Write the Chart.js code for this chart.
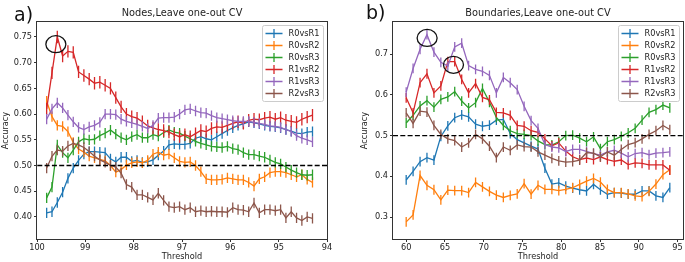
<!DOCTYPE html>
<html>
<head>
<meta charset="utf-8">
<script src="https://cdn.jsdelivr.net/npm/chart.js@4/dist/chart.umd.min.js"></script>
<style>
  html, body { margin: 0; padding: 0; background: #fff; }
  #wrap { position: relative; width: 685px; height: 262px; overflow: hidden; }
  canvas { position: absolute; top: 0; }
  #chart-a { left: 0; }
  #chart-b { left: 340px; }
  .panel-tag { position: absolute; font-family: "DejaVu Sans", sans-serif; font-size: 19px; line-height: 1; color: #111; }
</style>
</head>
<body>
<div id="wrap">
  <canvas id="chart-a" width="340" height="262"></canvas>
  <canvas id="chart-b" width="345" height="262"></canvas>
  <div class="panel-tag" style="left:14px;top:5px">a)</div>
  <div class="panel-tag" style="left:366px;top:3px">b)</div>
</div>
<script>
// ---- data ----
const seriesNames = ["R0vsR1", "R0vsR2", "R0vsR3", "R1vsR2", "R1vsR3", "R2vsR3"];
const seriesColors = ["#1f77b4", "#ff7f0e", "#2ca02c", "#d62728", "#9467bd", "#8c564b"];
const chanceLevel = 0.5;

// panel a: nodes
const thresholdsA = [99.8, 99.69, 99.58, 99.47, 99.36, 99.25, 99.14, 99.03, 98.92, 98.81,
  98.7, 98.59, 98.48, 98.37, 98.26, 98.15, 98.04, 97.93, 97.82, 97.71,
  97.6, 97.49, 97.38, 97.27, 97.16, 97.05, 96.94, 96.83, 96.72, 96.61,
  96.5, 96.39, 96.28, 96.17, 96.06, 95.95, 95.84, 95.73, 95.62, 95.51,
  95.4, 95.29, 95.18, 95.07, 94.96, 94.85, 94.74, 94.63, 94.52, 94.41, 94.3];
const r0r1A = [0.408, 0.410, 0.428, 0.448, 0.475, 0.495, 0.510, 0.522, 0.527, 0.527,
  0.526, 0.525, 0.513, 0.507, 0.516, 0.516, 0.508, 0.510, 0.506, 0.507,
  0.511, 0.520, 0.528, 0.540, 0.542, 0.541, 0.541, 0.543, 0.553, 0.556,
  0.552, 0.550, 0.556, 0.562, 0.568, 0.573, 0.578, 0.581, 0.585, 0.583,
  0.581, 0.578, 0.576, 0.575, 0.573, 0.570, 0.567, 0.563, 0.562, 0.565, 0.566];
const r0r2A = [0.625, 0.595, 0.578, 0.576, 0.566, 0.545, 0.532, 0.526, 0.518, 0.515,
  0.512, 0.509, 0.500, 0.487, 0.492, 0.501, 0.505, 0.507, 0.505, 0.510,
  0.522, 0.526, 0.520, 0.522, 0.515, 0.508, 0.506, 0.507, 0.500, 0.488,
  0.474, 0.472, 0.472, 0.473, 0.476, 0.474, 0.472, 0.472, 0.467, 0.460,
  0.474, 0.478, 0.486, 0.488, 0.488, 0.486, 0.482, 0.478, 0.482, 0.473, 0.467];
const r0r3A = [0.437, 0.458, 0.540, 0.525, 0.515, 0.530, 0.546, 0.552, 0.550, 0.551,
  0.558, 0.563, 0.569, 0.561, 0.554, 0.550, 0.556, 0.560, 0.554, 0.554,
  0.560, 0.557, 0.564, 0.569, 0.565, 0.563, 0.557, 0.552, 0.547, 0.543,
  0.540, 0.537, 0.536, 0.535, 0.537, 0.533, 0.531, 0.525, 0.521, 0.521,
  0.518, 0.516, 0.511, 0.506, 0.503, 0.497, 0.491, 0.486, 0.482, 0.481, 0.482];
const r1r2A = [0.610, 0.680, 0.750, 0.713, 0.722, 0.720, 0.682, 0.675, 0.668, 0.660,
  0.662, 0.656, 0.650, 0.632, 0.614, 0.600, 0.595, 0.592, 0.585, 0.577,
  0.573, 0.570, 0.568, 0.565, 0.560, 0.556, 0.560, 0.556, 0.562, 0.568,
  0.566, 0.572, 0.575, 0.574, 0.578, 0.582, 0.585, 0.582, 0.588, 0.590,
  0.589, 0.592, 0.594, 0.590, 0.593, 0.588, 0.586, 0.584, 0.590, 0.594, 0.598];
const r1r3A = [0.590, 0.610, 0.622, 0.612, 0.598, 0.585, 0.574, 0.570, 0.575, 0.578,
  0.584, 0.600, 0.600, 0.599, 0.590, 0.586, 0.583, 0.580, 0.576, 0.572,
  0.578, 0.592, 0.593, 0.593, 0.594, 0.600, 0.608, 0.610, 0.606, 0.603,
  0.602, 0.597, 0.593, 0.591, 0.589, 0.587, 0.586, 0.586, 0.586, 0.584,
  0.582, 0.580, 0.577, 0.576, 0.574, 0.570, 0.566, 0.558, 0.553, 0.550, 0.546];
const r2r3A = [0.495, 0.518, 0.530, 0.528, 0.538, 0.543, 0.540, 0.535, 0.527, 0.518,
  0.511, 0.506, 0.500, 0.497, 0.485, 0.463, 0.458, 0.443, 0.443, 0.438,
  0.433, 0.446, 0.432, 0.420, 0.418, 0.420, 0.414, 0.418, 0.410, 0.412,
  0.410, 0.411, 0.410, 0.410, 0.409, 0.418, 0.414, 0.413, 0.410, 0.427,
  0.408, 0.414, 0.414, 0.412, 0.414, 0.398, 0.410, 0.398, 0.393, 0.400, 0.397];
const errA = [0.010, 0.010, 0.010, 0.012, 0.010, 0.010];
const xTicksA = [100, 99, 98, 97, 96, 95, 94];
const yTicksA = [0.40, 0.45, 0.50, 0.55, 0.60, 0.65, 0.70, 0.75];
const circlesA = [{ x: 99.61, y: 0.736 }];

// panel b: boundaries
const thresholdsB = [60, 60.89, 61.79, 62.68, 63.58, 64.47, 65.37, 66.26, 67.16, 68.05,
  68.95, 69.84, 70.74, 71.63, 72.53, 73.42, 74.32, 75.21, 76.11, 77,
  77.89, 78.79, 79.68, 80.58, 81.47, 82.37, 83.26, 84.16, 85.05, 85.95,
  86.84, 87.74, 88.63, 89.53, 90.42, 91.32, 92.21, 93.11, 94];
const r0r1B = [0.391, 0.412, 0.436, 0.446, 0.440, 0.498, 0.524, 0.544, 0.551, 0.546,
  0.528, 0.523, 0.526, 0.538, 0.540, 0.505, 0.490, 0.482, 0.474, 0.467,
  0.420, 0.381, 0.384, 0.376, 0.371, 0.367, 0.364, 0.380, 0.367, 0.356,
  0.360, 0.359, 0.356, 0.356, 0.364, 0.364, 0.352, 0.348, 0.372];
const r0r2B = [0.288, 0.305, 0.402, 0.378, 0.367, 0.342, 0.366, 0.365, 0.365, 0.360,
  0.385, 0.374, 0.363, 0.354, 0.348, 0.353, 0.357, 0.382, 0.356, 0.378,
  0.368, 0.368, 0.365, 0.368, 0.372, 0.380, 0.388, 0.395, 0.386, 0.368,
  0.360, 0.360, 0.357, 0.352, 0.350, 0.363, 0.381, 0.404, 0.416];
const r0r3B = [0.531, 0.550, 0.573, 0.586, 0.570, 0.589, 0.595, 0.608, 0.585, 0.568,
  0.581, 0.616, 0.582, 0.545, 0.525, 0.512, 0.505, 0.503, 0.500, 0.487,
  0.478, 0.477, 0.485, 0.500, 0.501, 0.494, 0.485, 0.497, 0.468, 0.485,
  0.490, 0.498, 0.507, 0.518, 0.538, 0.557, 0.564, 0.575, 0.568];
const r1r2B = [0.593, 0.556, 0.630, 0.652, 0.605, 0.622, 0.682, 0.682, 0.638, 0.605,
  0.628, 0.594, 0.588, 0.557, 0.556, 0.550, 0.525, 0.523, 0.512, 0.508,
  0.492, 0.475, 0.482, 0.462, 0.448, 0.441, 0.445, 0.441, 0.448, 0.441,
  0.437, 0.440, 0.429, 0.433, 0.432, 0.428, 0.428, 0.428, 0.415];
const r1r3B = [0.607, 0.665, 0.712, 0.748, 0.705, 0.680, 0.671, 0.718, 0.727, 0.672,
  0.663, 0.658, 0.648, 0.605, 0.643, 0.630, 0.613, 0.572, 0.537, 0.518,
  0.478, 0.472, 0.470, 0.461, 0.466, 0.466, 0.461, 0.456, 0.452, 0.460,
  0.464, 0.457, 0.448, 0.456, 0.458, 0.453, 0.457, 0.458, 0.460];
const r2r3B = [0.556, 0.530, 0.560, 0.558, 0.525, 0.503, 0.492, 0.488, 0.472, 0.482,
  0.503, 0.492, 0.474, 0.446, 0.472, 0.464, 0.477, 0.473, 0.472, 0.460,
  0.452, 0.444, 0.438, 0.435, 0.436, 0.440, 0.458, 0.457, 0.448, 0.460,
  0.452, 0.466, 0.478, 0.483, 0.492, 0.503, 0.512, 0.525, 0.515];
const errB = [0.012, 0.012, 0.012, 0.012, 0.012, 0.012];
const xTicksB = [60, 65, 70, 75, 80, 85, 90, 95];
const yTicksB = [0.3, 0.4, 0.5, 0.6, 0.7];
const circlesB = [{ x: 62.7, y: 0.740 }, { x: 66.1, y: 0.674 }];

// ---- drawing ----
const FONT = "'DejaVu Sans', sans-serif";
const TEXT = "#222";
Chart.defaults.font.family = FONT;

// vertical error bars, drawn right after each dataset's line
const errorBars = {
    id: "errorBars",
    afterDatasetDraw(chart, args) {
        const ds = chart.data.datasets[args.index];
        if (ds.err == null) return;
        const ctx = chart.ctx;
        const yScale = chart.scales.y;
        const area = chart.chartArea;
        ctx.save();
        ctx.beginPath();
        ctx.rect(area.left, area.top, area.right - area.left, area.bottom - area.top);
        ctx.clip();
        ctx.strokeStyle = ds.borderColor;
        ctx.lineWidth = 1.3;
        ctx.beginPath();
        args.meta.data.forEach((pt, i) => {
            const v = ds.data[i].y;
            ctx.moveTo(pt.x, yScale.getPixelForValue(v + ds.err));
            ctx.lineTo(pt.x, yScale.getPixelForValue(v - ds.err));
        });
        ctx.stroke();
        ctx.restore();
    }
};

// circles, axes frame and the legend box
const decorations = {
    id: "decorations",
    afterDatasetsDraw(chart, args, opts) {
        const ctx = chart.ctx;
        const a = chart.chartArea;
        ctx.save();

        ctx.strokeStyle = "#111";
        ctx.lineWidth = 1.3;
        (opts.circles || []).forEach(c => {
            const cx = chart.scales.x.getPixelForValue(c.x);
            const cy = chart.scales.y.getPixelForValue(c.y);
            ctx.beginPath();
            ctx.ellipse(cx, cy, 10, 8.5, 0, 0, Math.PI * 2);
            ctx.stroke();
        });

        ctx.strokeStyle = "#333";
        ctx.lineWidth = 1;
        const l = Math.round(a.left) - 0.5, t = Math.round(a.top) - 0.5;
        const r = Math.round(a.right) + 0.5, b = Math.round(a.bottom) + 0.5;
        ctx.strokeRect(l, t, r - l, b - t);

        // legend
        const items = chart.data.datasets.filter(d => d.label);
        const boxW = 61, rowH = 12;
        const boxH = items.length * rowH + 4;
        const bx = Math.round(a.right) - 4 - boxW + 0.5;
        const by = Math.round(a.top) + 3 + 0.5;
        ctx.fillStyle = "rgba(255,255,255,0.8)";
        ctx.strokeStyle = "#cccccc";
        ctx.beginPath();
        if (ctx.roundRect) ctx.roundRect(bx, by, boxW, boxH, 2);
        else ctx.rect(bx, by, boxW, boxH);
        ctx.fill();
        ctx.stroke();

        ctx.font = "8.2px " + FONT;
        ctx.textBaseline = "middle";
        ctx.textAlign = "left";
        items.forEach((d, i) => {
            const cy = by + 8 + i * rowH;
            ctx.strokeStyle = d.borderColor;
            ctx.lineWidth = 1.3;
            ctx.beginPath();
            ctx.moveTo(bx + 3, cy);
            ctx.lineTo(bx + 20, cy);
            ctx.moveTo(bx + 11.5, cy - 4.5);
            ctx.lineTo(bx + 11.5, cy + 4.5);
            ctx.stroke();
            ctx.fillStyle = TEXT;
            ctx.fillText(d.label, bx + 26, cy);
        });

        ctx.restore();
    }
};

function buildChart(canvasId, cfg) {
    const datasets = cfg.series.map((vals, i) => ({
        label: seriesNames[i],
        data: cfg.x.map((x, j) => ({ x: x, y: vals[j] })),
        err: cfg.err[i],
        borderColor: seriesColors[i],
        backgroundColor: seriesColors[i],
        borderWidth: 1.3,
        pointRadius: 0,
        tension: 0,
        fill: false,
        order: seriesNames.length - i
    }));
    datasets.push({
        label: "",
        data: [{ x: cfg.xMin, y: chanceLevel }, { x: cfg.xMax, y: chanceLevel }],
        borderColor: "#000",
        borderWidth: 1.3,
        borderDash: [5, 2.3],
        pointRadius: 0,
        fill: false,
        order: 0
    });

    const smallFont = { family: FONT, size: 8.2 };
    const tickGrid = { display: true, drawOnChartArea: false, drawTicks: true, tickLength: 3, color: "#333", lineWidth: 1 };

    return new Chart(document.getElementById(canvasId), {
        type: "line",
        data: { datasets },
        plugins: [errorBars, decorations],
        options: {
            responsive: false,
            animation: false,
            devicePixelRatio: 1,
            layout: { padding: { left: cfg.padLeft, right: cfg.padRight, top: 0, bottom: 0 } },
            scales: {
                x: {
                    type: "linear",
                    min: cfg.xMin,
                    max: cfg.xMax,
                    reverse: cfg.reverse,
                    afterBuildTicks: s => { s.ticks = cfg.xTicks.map(v => ({ value: v })); },
                    afterFit: s => { s.height = 23; },
                    grid: tickGrid,
                    border: { display: false },
                    ticks: { font: smallFont, color: TEXT, padding: 1, maxRotation: 0, autoSkip: false,
                        callback: v => String(v) },
                    title: { display: true, text: "Threshold", font: smallFont, color: TEXT,
                        padding: { top: 0, bottom: 0 } }
                },
                y: {
                    type: "linear",
                    min: cfg.yMin,
                    max: cfg.yMax,
                    afterBuildTicks: s => { s.ticks = cfg.yTicks.map(v => ({ value: v })); },
                    afterFit: s => { s.width = cfg.yWidth; },
                    grid: tickGrid,
                    border: { display: false },
                    ticks: { font: smallFont, color: TEXT, padding: 2, autoSkip: false,
                        callback: v => v.toFixed(cfg.yDigits) },
                    title: { display: true, text: "Accuracy", font: smallFont, color: TEXT,
                        padding: { top: 1, bottom: 0 } }
                }
            },
            plugins: {
                legend: { display: false },
                tooltip: { enabled: false },
                title: {
                    display: true,
                    text: cfg.title,
                    fullSize: false,
                    color: TEXT,
                    font: { family: FONT, size: 9.8, weight: "normal" },
                    padding: { top: 7.3, bottom: 3 }
                },
                decorations: { circles: cfg.circles }
            }
        }
    });
}

buildChart("chart-a", {
    title: "Nodes,Leave one-out CV",
    x: thresholdsA,
    series: [r0r1A, r0r2A, r0r3A, r1r2A, r1r3A, r2r3A],
    err: errA,
    xMin: 94, xMax: 100, reverse: true,
    yMin: 0.357, yMax: 0.779,
    xTicks: xTicksA, yTicks: yTicksA, yDigits: 2,
    circles: circlesA,
    padLeft: 0, padRight: 13, yWidth: 37
});

buildChart("chart-b", {
    title: "Boundaries,Leave one-out CV",
    x: thresholdsB,
    series: [r0r1B, r0r2B, r0r3B, r1r2B, r1r3B, r2r3B],
    err: errB,
    xMin: 58.3, xMax: 95.7, reverse: false,
    yMin: 0.246, yMax: 0.779,
    xTicks: xTicksB, yTicks: yTicksB, yDigits: 1,
    circles: circlesB,
    padLeft: 19, padRight: 2, yWidth: 34
});
</script>
</body>
</html>
